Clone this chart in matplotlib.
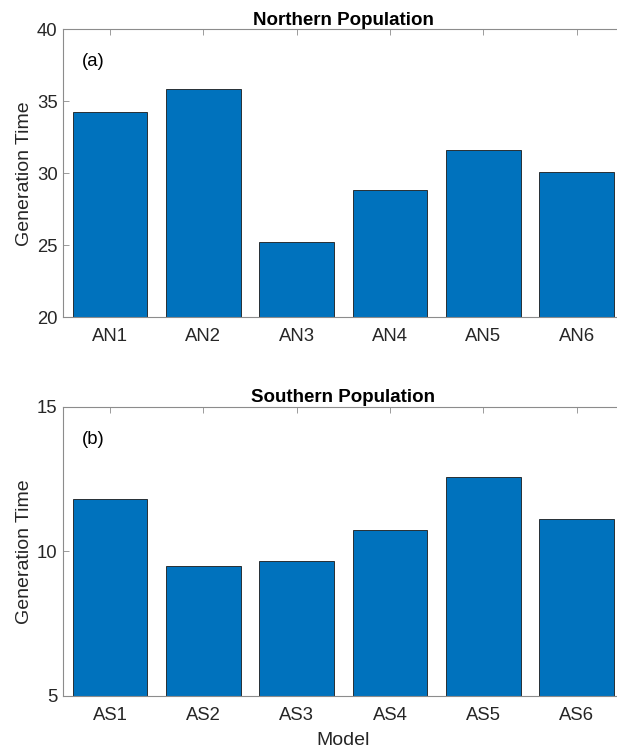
import matplotlib
matplotlib.use("Agg")
from matplotlib import pyplot as plt
import numpy as np

# generation time per model
north_labels = ["AN1", "AN2", "AN3", "AN4", "AN5", "AN6"]
north_values = [34.26, 35.85, 25.25, 28.86, 31.62, 30.09]
south_labels = ["AS1", "AS2", "AS3", "AS4", "AS5", "AS6"]
south_values = [11.81, 9.49, 9.65, 10.75, 12.58, 11.13]

plt.rcParams["font.family"] = ["Liberation Sans", "DejaVu Sans"]
bar_color = "#0072BD"
text_color = "#262626"
axis_color = "#8c8c8c"

fig = plt.figure(figsize=(6.17, 7.49), dpi=100)
# axes run past the right edge on purpose (the original is cropped there)
ax1 = fig.add_axes([0.1026, 0.5764, 0.9076, 0.3845])
ax2 = fig.add_axes([0.1026, 0.0708, 0.9076, 0.3863])


def style_axis(ax, labels, values, ylim, yticks, title, tag):
    x = np.arange(1, len(values) + 1)
    ax.bar(x, values, width=0.8, color=bar_color, edgecolor="#1a1a1a", linewidth=0.6, zorder=2)
    ax.set_xlim(0.5, len(values) + 0.5)
    ax.set_ylim(*ylim)
    ax.set_xticks(x)
    ax.set_xticklabels(labels)
    ax.set_yticks(yticks)
    ax.tick_params(axis="both", direction="in", length=4, width=0.6, color=axis_color,
                   labelsize=13.3, labelcolor=text_color, top=True, right=False, pad=8)
    ax.tick_params(axis="y", pad=4)
    for s in ax.spines.values():
        s.set_color(axis_color)
        s.set_linewidth(0.8)
    # right side of the box falls outside the cropped original
    ax.spines["right"].set_visible(False)
    ax.set_title(title, fontsize=13.5, fontweight="bold", color="black", pad=3)
    ax.set_ylabel("Generation Time", fontsize=14, color=text_color, labelpad=3)
    ax.text(0.033, 0.8875, tag, transform=ax.transAxes, fontsize=13.3, color="black",
            ha="left", va="center")


style_axis(ax1, north_labels, north_values, (20, 40), [20, 25, 30, 35, 40], "Northern Population", "(a)")
style_axis(ax2, south_labels, south_values, (5, 15), [5, 10, 15], "Southern Population", "(b)")
ax2.set_xlabel("Model", fontsize=14, color=text_color, labelpad=6)

fig.savefig("out.png", dpi=100)
